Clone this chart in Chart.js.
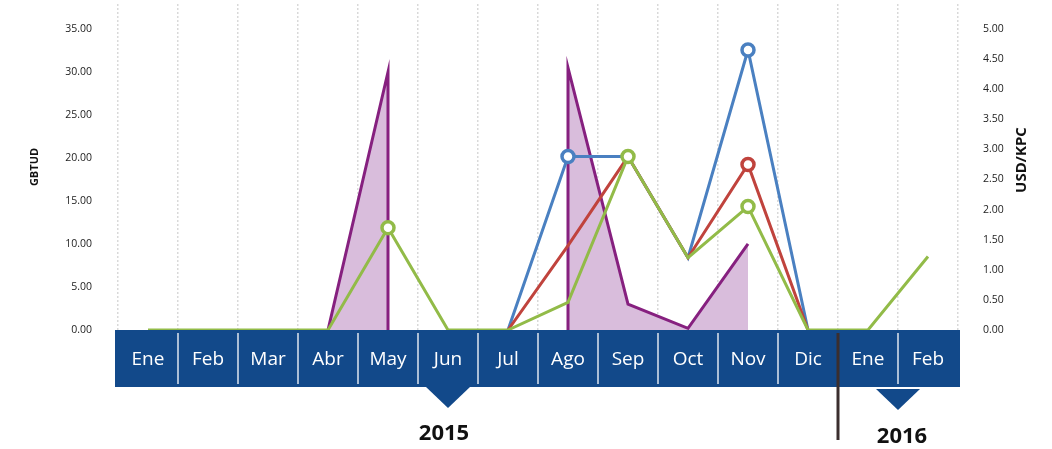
<!DOCTYPE html>
<html>
<head>
<meta charset="utf-8">
<script src="https://cdn.jsdelivr.net/npm/chart.js@4/dist/chart.umd.min.js"></script>
<style>
  html, body { margin: 0; padding: 0; background: #fff; }
</style>
</head>
<body>
<canvas id="precios" width="1052" height="449"></canvas>
<script>
/* ----- datos ----- */
const meses = ["Ene", "Feb", "Mar", "Abr", "May", "Jun", "Jul", "Ago", "Sep", "Oct", "Nov", "Dic", "Ene", "Feb"];
const anios = ["2015", "2016"];

// USD/KPC (eje derecho)
const precioAzul = [null, null, null, null, null, null, 0, 2.88, 2.88, 1.2, 4.65, 0, null, null];
const precioRojo = [null, null, null, null, null, null, 0, 1.4, 2.88, 1.2, 2.75, 0, null, null];
const precioVerde = [0, 0, 0, 0, 1.7, 0, 0, 0.46, 2.88, 1.2, 2.05, 0, 0, 1.22];

// GBTUD (eje izquierdo): mes (índice) y volumen, May y Ago con salto vertical
const gbtudMes = [3, 4, 4, 5, 7, 7, 8, 9, 10];
const gbtudValor = [0, 30, 0, null, 0, 30.5, 3, 0.2, 10];

// ticks de los ejes
const ticksGbtud = [0, 5, 10, 15, 20, 25, 30, 35];
const ticksUsd = [0, 0.5, 1, 1.5, 2, 2.5, 3, 3.5, 4, 4.5, 5];

// marcadores con círculo
const puntosAzul = [7, 10];
const puntosRojo = [10];
const puntosVerde = [4, 8, 10];

/* ----- colores ----- */
const AZUL_BARRA = "#12498a";
const FUENTE = "'Open Sans', 'DejaVu Sans', sans-serif";

const radios = (marcas) => meses.map((m, i) => (marcas.includes(i) ? 6 : 0));

/* ----- barra de meses, años y título derecho ----- */
const barraMeses = {
  id: "barraMeses",
  beforeDraw(chart) {
    const { ctx, chartArea } = chart;
    const x = chart.scales.x;
    const top = chartArea.bottom;
    const paso = x.getPixelForValue(1) - x.getPixelForValue(0);
    const borde = (i) => x.getPixelForValue(i) + paso / 2;

    ctx.save();
    ctx.fillStyle = AZUL_BARRA;
    ctx.fillRect(chartArea.left - 3, top, chartArea.right - chartArea.left + 5, 57);

    ctx.strokeStyle = "#ffffff";
    ctx.lineWidth = 1.3;
    for (let i = 0; i < meses.length - 1; i++) {
      if (i === 11) continue;
      ctx.beginPath();
      ctx.moveTo(borde(i), top + 3);
      ctx.lineTo(borde(i), top + 54);
      ctx.stroke();
    }

    // triángulos bajo cada año
    const triangulo = (cx, y) => {
      ctx.beginPath();
      ctx.moveTo(cx - 22, y);
      ctx.lineTo(cx + 22, y);
      ctx.lineTo(cx, y + 21);
      ctx.closePath();
      ctx.fill();
    };
    ctx.fillStyle = AZUL_BARRA;
    const cx2015 = x.getPixelForValue(5);
    const cx2016 = borde(12);
    triangulo(cx2015, top + 57);
    triangulo(cx2016, top + 59);

    // línea de cambio de año
    ctx.strokeStyle = "#3b2e2e";
    ctx.lineWidth = 3;
    ctx.beginPath();
    ctx.moveTo(borde(11), top + 3);
    ctx.lineTo(borde(11), top + 110);
    ctx.stroke();

    ctx.fillStyle = "#111";
    ctx.font = "bold 22px " + FUENTE;
    ctx.textAlign = "center";
    ctx.textBaseline = "alphabetic";
    ctx.fillText(anios[0], cx2015 - 4, top + 110);
    ctx.fillText(anios[1], cx2016 + 4, top + 113);
    ctx.restore();
  },
  afterDraw(chart) {
    const { ctx } = chart;
    ctx.save();
    ctx.translate(1022, 160);
    ctx.rotate(-Math.PI / 2);
    ctx.font = "bold 15px " + FUENTE;
    ctx.fillStyle = "#111";
    ctx.textAlign = "center";
    ctx.textBaseline = "middle";
    ctx.fillText("USD/KPC", 0, 0);
    ctx.restore();
  },
};

const linea = (color, datos, marcas, orden) => ({
  data: datos,
  borderColor: color,
  backgroundColor: "#ffffff",
  borderWidth: 3,
  pointRadius: radios(marcas),
  pointHoverRadius: radios(marcas),
  pointBorderWidth: 3.5,
  pointBackgroundColor: "#ffffff",
  pointBorderColor: color,
  tension: 0,
  fill: false,
  yAxisID: "y1",
  xAxisID: "x",
  order: orden,
  clip: { left: 8, right: 8, top: 8, bottom: 0 },
});

// sin relleno extra arriba por la separación de los ticks
const sinRellenoVertical = (scale) => {
  scale.paddingTop = 0;
  scale.paddingBottom = 0;
};

new Chart("precios", {
  type: "line",
  data: {
    labels: meses,
    datasets: [
      linea("#92bb48", precioVerde, puntosVerde, 1),
      linea("#c0433d", precioRojo, puntosRojo, 2),
      linea("#4a80c1", precioAzul, puntosAzul, 3),
      {
        data: gbtudMes.map((m, i) => ({ x: m, y: gbtudValor[i] })),
        borderColor: "#86207f",
        backgroundColor: "#d9bddc",
        borderWidth: 3,
        borderJoinStyle: "miter",
        pointRadius: 0,
        tension: 0,
        fill: "origin",
        spanGaps: false,
        xAxisID: "xp",
        yAxisID: "y",
        order: 4,
        clip: { left: 8, right: 8, top: 30, bottom: 0 },
      },
    ],
  },
  options: {
    responsive: false,
    animation: false,
    devicePixelRatio: 1,
    layout: { padding: { top: 4, left: 0, right: 0, bottom: 0 } },
    plugins: {
      legend: { display: false },
      tooltip: { enabled: false },
    },
    scales: {
      x: {
        type: "category",
        position: "bottom",
        offset: true,
        grid: {
          offset: true,
          drawTicks: false,
          color: "#d9d9d9",
          lineWidth: 1.5,
        },
        border: { display: false, dash: [2, 2] },
        ticks: {
          color: "#ffffff",
          font: { family: FUENTE, size: 19 },
          padding: 18,
          autoSkip: false,
          maxRotation: 0,
        },
        afterFit(scale) {
          scale.height = 119;
        },
      },
      xp: {
        type: "linear",
        display: false,
        min: -0.5,
        max: 13.5,
      },
      y: {
        position: "left",
        min: 0,
        max: 37.9,
        grid: { display: false, drawTicks: false },
        border: { display: false },
        ticks: {
          color: "#222",
          font: { family: FUENTE, size: 10.5 },
          padding: 26,
          callback: (v) => v.toFixed(2),
        },
        afterBuildTicks(scale) {
          scale.ticks = ticksGbtud.map((v) => ({ value: v }));
        },
        title: {
          display: true,
          text: "GBTUD",
          color: "#111",
          font: { family: FUENTE, size: 11, weight: "bold" },
          padding: { top: 28 },
        },
        afterFit(scale) {
          scale.width = 118;
          sinRellenoVertical(scale);
        },
      },
      y1: {
        position: "right",
        min: 0,
        max: 5.414,
        grid: { display: false, drawTicks: false },
        border: { display: false },
        ticks: {
          color: "#222",
          font: { family: FUENTE, size: 10.5 },
          padding: 25,
          callback: (v) => v.toFixed(2),
        },
        afterBuildTicks(scale) {
          scale.ticks = ticksUsd.map((v) => ({ value: v }));
        },
        afterFit(scale) {
          scale.width = 94;
          sinRellenoVertical(scale);
        },
      },
    },
  },
  plugins: [barraMeses],
});
</script>
</body>
</html>
